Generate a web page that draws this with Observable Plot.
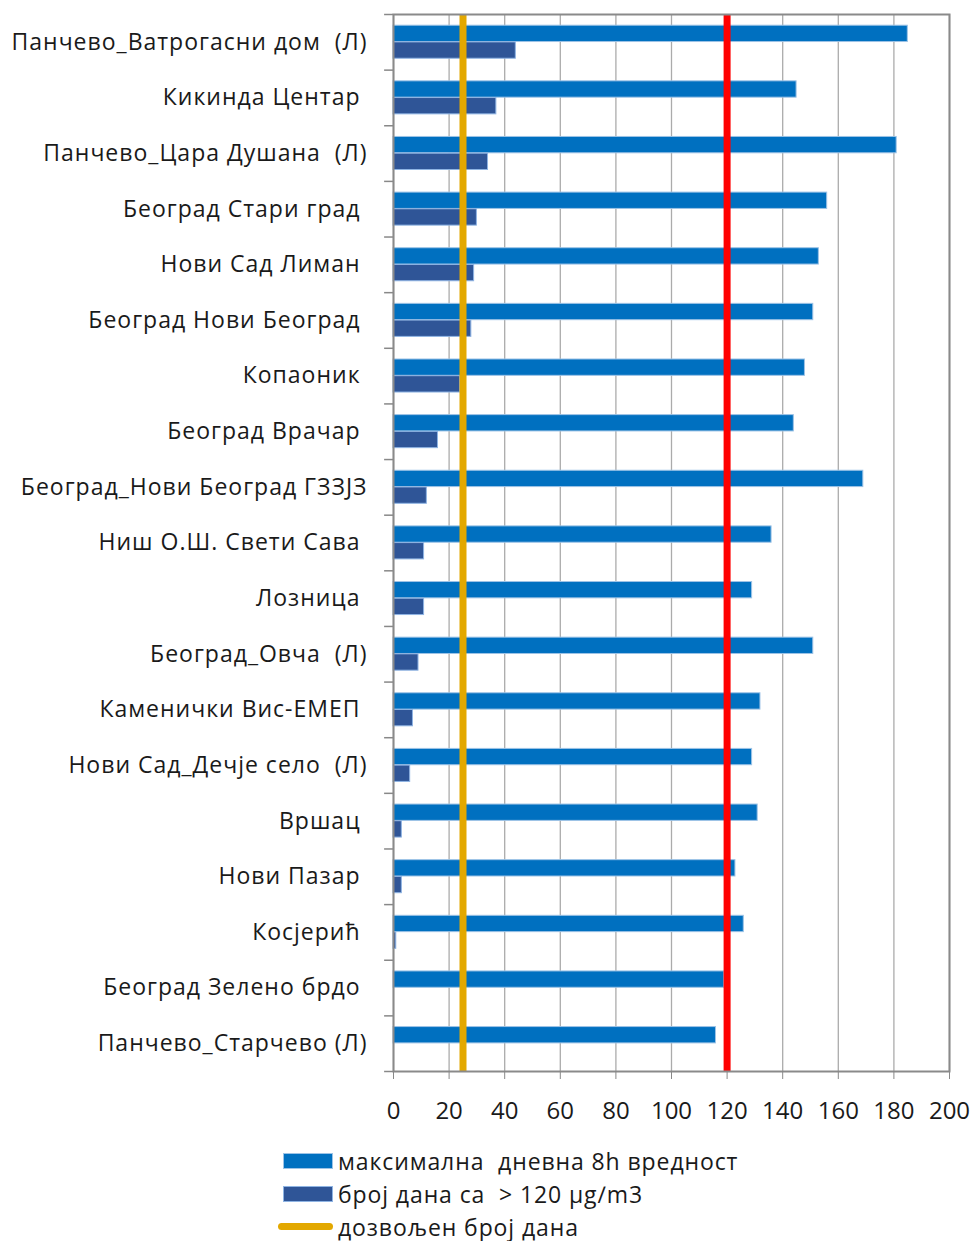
<!DOCTYPE html>
<html>
<head>
<meta charset="utf-8">
<script src="https://cdn.jsdelivr.net/npm/d3@7"></script>
<script src="https://cdn.jsdelivr.net/npm/@observablehq/plot@0.6"></script>
<style>
  body { margin: 0; background: #fff; }
  #wrap { position: relative; width: 974px; height: 1241px; font-family: "Open Sans", sans-serif; }
  #legend { position: absolute; left: 283px; top: 1144px; }
  .row { display: flex; align-items: center; height: 33px; font-size: 23px; letter-spacing: 0.9px; color: #1a1a1a; white-space: pre; }
  .sw { width: 50px; height: 16px; margin-right: 5px; box-sizing: border-box; }
  .ln { width: 55px; height: 7px; border-radius: 4px; margin-left: -5px; margin-right: 5px; }
</style>
</head>
<body>
<div id="wrap">
  <div id="chart"></div>
  <div id="legend"></div>
</div>
<script>
const stations = [
  "Панчево_Ватрогасни дом  (Л)",
  "Кикинда Центар ",
  "Панчево_Цара Душана  (Л)",
  "Београд Стари град ",
  "Нови Сад Лиман ",
  "Београд Нови Београд ",
  "Копаоник ",
  "Београд Врачар ",
  "Београд_Нови Београд ГЗЗЈЗ",
  "Ниш О.Ш. Свети Сава ",
  "Лозница ",
  "Београд_Овча  (Л)",
  "Каменички Вис-ЕМЕП ",
  "Нови Сад_Дечје село  (Л)",
  "Вршац ",
  "Нови Пазар ",
  "Косјерић ",
  "Београд Зелено брдо ",
  "Панчево_Старчево (Л)"
];
const maxDaily8h = [185, 145, 181, 156, 153, 151, 148, 144, 169, 136, 129, 151, 132, 129, 131, 123, 126, 119, 116];
const daysOver120 = [44, 37, 34, 30, 29, 28, 24, 16, 12, 11, 11, 9, 7, 6, 3, 3, 1, 0, 0];
const allowedDays = [25];
const limitValue = [120];
const xTicks = [0, 20, 40, 60, 80, 100, 120, 140, 160, 180, 200];
const legendLabels = ["максимална  дневна 8h вредност", "број дана са  > 120 µg∕m3", "дозвољен број дана"];

const colLight = "#0070C0";
const colDark = "#2F5597";
const colYellow = "#E3A800";
const colRed = "#FF0000";

const rows = stations.map((s, i) => ({station: s, max: maxDaily8h[i], days: daysOver120[i]}));

const H = 1140, mTop = 14, mBottom = 69;
const bw = (H - mTop - mBottom) / stations.length;

const chart = Plot.plot({
  width: 974,
  height: H,
  marginLeft: 393,
  marginRight: 25,
  marginTop: mTop,
  marginBottom: mBottom,
  style: {fontFamily: "Open Sans, sans-serif", color: "#1a1a1a", background: "#fff"},
  x: {domain: [0, 200], ticks: xTicks, label: null},
  y: {domain: stations, padding: 0, round: false, label: null},
  marks: [
    Plot.ruleX(xTicks, {stroke: "#ababab", strokeWidth: 1.3}),
    Plot.barX(rows, {y: "station", x: "max", fill: colLight, stroke: "#9DC3E6", strokeWidth: 1, insetTop: 11.2, insetBottom: 28.1}),
    Plot.barX(rows, {y: "station", x: "days", fill: colDark, stroke: "#8FB4E3", strokeWidth: 1, insetTop: 27.9, insetBottom: 11.4}),
    Plot.ruleX(allowedDays, {stroke: colYellow, strokeWidth: 7}),
    Plot.ruleX(limitValue, {stroke: colRed, strokeWidth: 7}),
    Plot.ruleY(stations, {y: d => d, dy: -bw / 2, x1: -3.2, x2: 0, stroke: "#888", strokeWidth: 1.5}),
    Plot.ruleY(stations.slice(-1), {y: d => d, dy: bw / 2, x1: -3.2, x2: 0, stroke: "#888", strokeWidth: 1.5}),
    Plot.frame({stroke: "#8a8a8a", strokeWidth: 2}),
    Plot.axisX({ticks: xTicks, tickSize: 8, tickPadding: 22, stroke: "#888", fontSize: 24, tickFormat: d => String(d), label: null}),
    Plot.axisY({tickSize: 0, tickPadding: 26, fontSize: 23, label: null})
  ]
});
document.getElementById("chart").appendChild(chart);
d3.select(chart).selectAll("[aria-label='y-axis tick label'] text")
  .style("white-space", "pre")
  .attr("letter-spacing", "1px");

const legend = document.getElementById("legend");
const items = [
  {label: legendLabels[0], type: "sw", color: colLight, border: "#9DC3E6"},
  {label: legendLabels[1], type: "sw", color: colDark, border: "#8FB4E3"},
  {label: legendLabels[2], type: "ln", color: colYellow}
];
for (const it of items) {
  const r = document.createElement("div");
  r.className = "row";
  const s = document.createElement("div");
  s.className = it.type;
  s.style.background = it.color;
  if (it.border) s.style.border = "1px solid " + it.border;
  const t = document.createElement("span");
  t.textContent = it.label;
  r.appendChild(s);
  r.appendChild(t);
  legend.appendChild(r);
}
</script>
</body>
</html>
